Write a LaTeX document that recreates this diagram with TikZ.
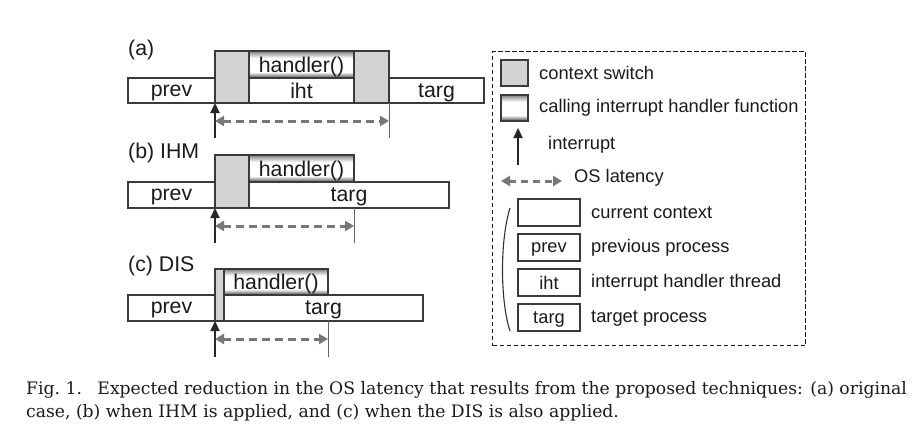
\documentclass[tikz,border=0pt]{standalone}
\usepackage{fontspec}
\setmainfont{Liberation Sans}
\newfontfamily\capfont{DejaVu Serif}
\usetikzlibrary{arrows.meta}
\definecolor{csgray}{HTML}{D3D3D3}
\definecolor{linegray}{HTML}{3A3A3A}
\definecolor{latgray}{HTML}{777777}
\definecolor{txt}{HTML}{1A1A1A}
\pgfdeclareverticalshading{hshade}{100bp}{color(0bp)=(black!70); color(25bp)=(black!72); color(36bp)=(white); color(62bp)=(white); color(75bp)=(black!50); color(100bp)=(black!50)}
\newcommand\bx[7]{\node[#6, minimum width={#4pt-#2pt}, minimum height={#5pt-#3pt}] (#1) at ({(#2+#4)/2},{(#3+#5)/2}) {#7};}
\tikzset{
  base/.style={inner sep=0pt, outer sep=0pt, draw=linegray, line width=1.2pt, text=txt, text depth=0pt},
  ctx/.style={base, fill=white, font=\fontsize{21.3}{24}\selectfont},
  cs/.style={base, fill=csgray},
  hnd/.style={base, shading=hshade, font=\fontsize{21.3}{24}\selectfont},
  lbl/.style={anchor=west, inner sep=0pt, text=txt, font=\fontsize{21.3}{24}\selectfont},
  legt/.style={anchor=west, inner sep=0pt, text=txt, font=\fontsize{18.3}{22}\selectfont},
  legbox/.style={base, fill=white, font=\fontsize{18.3}{22}\selectfont},
  intarrow/.style={draw=black!85, line width=2.3pt, -{Triangle[length=10pt,width=9pt]}},
  latarrow/.style={draw=latgray, line width=3pt, dash pattern=on 8pt off 5pt, {Triangle[length=9pt,width=10pt]}-{Triangle[length=9pt,width=10pt]}},
  vline/.style={draw=black!60, line width=1pt},
  captext/.style={anchor=base west, inner sep=0pt, text=txt, font=\capfont\fontsize{17.2}{20}\selectfont}
}
\begin{document}
\begin{tikzpicture}[x=1pt,y=-1pt]
\useasboundingbox (0,0) rectangle (924,437);
% ---------- (a)
\node[lbl] (la) at (128,50) {(a)};
\bx{aprev}{128}{78}{215}{103}{ctx}{prev}
\bx{acs1}{215}{51}{249}{103}{cs}{}
\bx{ahnd}{249}{51}{354}{78}{hnd}{handler()}
\bx{aiht}{249}{78}{354}{103}{ctx}{iht}
\bx{acs2}{354}{51}{389}{103}{cs}{}
\bx{atarg}{389}{78}{484}{103}{ctx}{targ}
\coordinate (aint) at (215,138);
\coordinate (alat1) at (215,121);
\coordinate (alat2) at (389,121);
\coordinate (avend) at (389,138);
\draw[intarrow] (aint) -- (aprev.south east);
\draw[vline] (acs2.south east) -- (avend);
\draw[latarrow] (alat1) -- (alat2);
% ---------- (b)
\node[lbl] (lb) at (128,153) {(b) IHM};
\bx{bprev}{128}{182}{215}{208}{ctx}{prev}
\bx{bcs}{215}{155}{249}{208}{cs}{}
\bx{bhnd}{249}{155}{354}{182}{hnd}{handler()}
\bx{btarg}{249}{182}{449}{208}{ctx}{targ}
\coordinate (bint) at (215,243);
\coordinate (blat1) at (215,226);
\coordinate (blat2) at (354,226);
\coordinate (bvend) at (354,243);
\draw[intarrow] (bint) -- (bprev.south east);
\draw[vline] (bhnd.south east) ++(0,26) -- (bvend);
\draw[latarrow] (blat1) -- (blat2);
% ---------- (c)
\node[lbl] (lc) at (128,266) {(c) DIS};
\bx{cprev}{128}{295}{215}{321}{ctx}{prev}
\bx{ccs}{215}{269}{224}{321}{cs}{}
\bx{chnd}{224}{269}{328}{295}{hnd}{handler()}
\bx{ctarg}{224}{295}{423}{321}{ctx}{targ}
\coordinate (cint) at (215,357);
\coordinate (clat1) at (215,339);
\coordinate (clat2) at (328,339);
\coordinate (cvend) at (328,357);
\draw[intarrow] (cint) -- (cprev.south east);
\draw[vline] (chnd.south east) ++(0,26) -- (cvend);
\draw[latarrow] (clat1) -- (clat2);
% ---------- legend
\node[draw=black!90, line width=1.8pt, dash pattern=on 4.5pt off 2.5pt, inner sep=0pt, minimum width=313pt, minimum height=294pt] (legend) at (649,198.5) {};
\bx{lcs}{501}{60}{528}{86}{cs}{}
\node[legt] (tcs) at (539,73) {context switch};
\bx{lhnd}{501}{95}{528}{121}{hnd}{}
\node[legt] (thnd) at (539,108) {calling interrupt handler function};
\coordinate (lint1) at (518,165);
\coordinate (lint2) at (518,128);
\draw[intarrow] (lint1) -- (lint2);
\node[legt] (tint) at (548,145) {interrupt};
\coordinate (llat1) at (501,181);
\coordinate (llat2) at (562,181);
\draw[latarrow, dash pattern=on 7pt off 5pt] (llat1) -- (llat2);
\node[legt] (tlat) at (574,178) {OS latency};
\bx{lcur}{518}{199}{580}{226}{legbox}{}
\node[legt] (tcur) at (591,213) {current context};
\bx{lprev}{518}{234}{580}{261}{legbox}{prev}
\node[legt] (tprev) at (591,248) {previous process};
\bx{liht}{518}{269}{580}{296}{legbox}{iht}
\node[legt] (tiht) at (591,283) {interrupt handler thread};
\bx{ltarg}{518}{304}{580}{331}{legbox}{targ}
\node[legt] (ttarg) at (591,318) {target process};
\coordinate (br1) at (510,208);
\coordinate (br2) at (510,331);
\draw[draw=black!80, line width=1.1pt] (br1) .. controls (500,240) and (500,300) .. (br2);
% ---------- caption
\node[captext] (cap1) at (26,394) {Fig.\ 1.\hspace{0.9em}Expected reduction in the OS latency that results from the proposed techniques: (a) original};
\node[captext] (cap2) at (26,417) {case, (b) when IHM is applied, and (c) when the DIS is also applied.};
\end{tikzpicture}
\end{document}
